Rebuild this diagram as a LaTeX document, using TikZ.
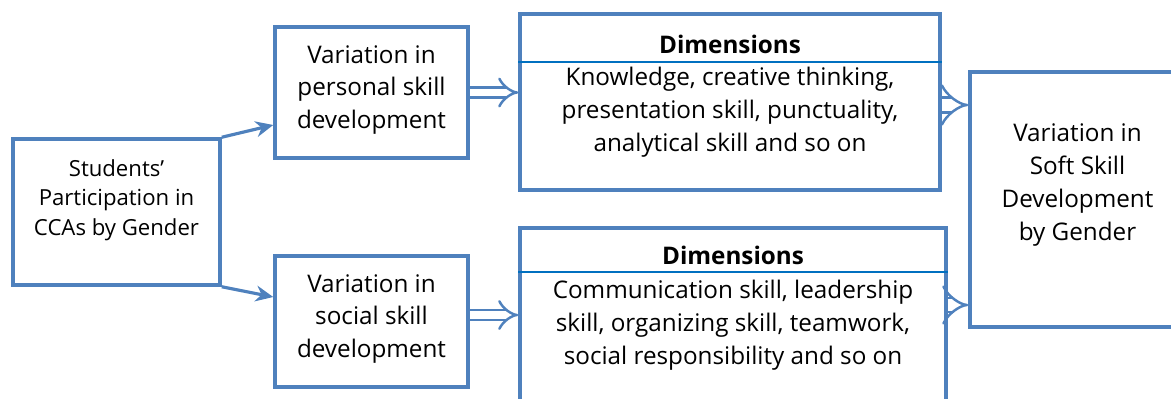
\documentclass[tikz,border=0pt]{standalone}
\usepackage{fontspec}
\setmainfont{Open Sans}
\usetikzlibrary{arrows.meta}

\definecolor{boxblue}{HTML}{4F81BD}
\definecolor{lineblue}{HTML}{0070C0}

\tikzset{
  box/.style={draw=boxblue, line width=2pt, rectangle, align=center},
  txt/.style={align=center, font=\fontsize{13.8}{18.7}\selectfont},
  small/.style={align=center, font=\fontsize{12.6}{16.8}\selectfont},
  link/.style={draw=boxblue, line width=1.8pt, -{Stealth[length=10pt,width=9pt]}},
  fat/.style={draw=boxblue, line width=1.4pt, double, double distance=4.5pt, -{Implies}},
}

\begin{document}
\begin{tikzpicture}

  \useasboundingbox (0,0) rectangle (23.42,7.96);
  \clip (0,0) rectangle (23.42,7.96);

  \node[box, minimum width=4.14cm, minimum height=2.92cm] at (2.33,3.72) (cca) {};
  \node[small] at (2.33,3.96) {Students’\\Participation in\\CCAs by Gender};

  \node[box, minimum width=3.86cm, minimum height=2.62cm] at (7.43,6.11) (pers) {};
  \node[txt] at (7.43,6.16) {Variation in\\personal skill\\development};
  \node[box, minimum width=3.86cm, minimum height=2.62cm] at (7.43,1.53) (soc) {};
  \node[txt] at (7.43,1.58) {Variation in\\social skill\\development};

  \node[box, minimum width=8.4cm, minimum height=3.52cm] at (14.6,5.92) (dimA) {};
  \draw[lineblue, line width=0.6pt] (dimA.west |- 0,6.72) -- (dimA.east |- 0,6.72);
  \node[txt, font=\fontsize{13.8}{18.7}\selectfont\bfseries] at (14.6,7.08) (hdA) {Dimensions};
  \node[txt] at (14.6,5.72) (bdA) {Knowledge, creative thinking,\\presentation skill, punctuality,\\analytical skill and so on};

  \node[box, minimum width=8.52cm, minimum height=3.6cm] at (14.66,1.6) (dimB) {};
  \draw[lineblue, line width=0.6pt] (dimB.west |- 0,2.52) -- (dimB.east |- 0,2.52);
  \node[txt, font=\fontsize{13.8}{18.7}\selectfont\bfseries] at (14.66,2.86) (hdB) {Dimensions};
  \node[txt] at (14.66,1.46) (bdB) {Communication skill, leadership\\skill, organizing skill, teamwork,\\social responsibility and so on};

  \node[box, minimum width=4.3cm, minimum height=5.1cm] at (21.55,3.97) (soft) {};
  \node[txt] at (21.55,4.26) {Variation in\\Soft Skill\\Development\\by Gender};

  \draw[link] (cca.north east) -- ([yshift=-0.65cm]pers.west);
  \draw[link] (cca.south east) -- ([yshift=0.49cm]soc.west);

  \draw[fat] (pers.east) -- (pers.east -| dimA.west);
  \draw[fat] ([yshift=0.13cm]soc.east) -- ([yshift=0.13cm]soc.east -| dimB.west);
  \draw[fat, double distance=7pt] ([yshift=-0.06cm]dimA.east) -- ([yshift=-0.06cm]dimA.east -| soft.west);
  \draw[fat, double distance=6.5pt] ([yshift=0.26cm]dimB.east) -- ([yshift=0.26cm]dimB.east -| soft.west);

\end{tikzpicture}
\end{document}
